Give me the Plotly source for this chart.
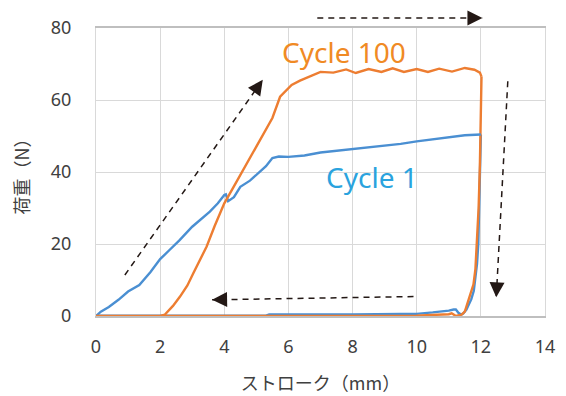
import plotly.graph_objects as go

# ---------------- data ----------------
# Cycle 1: loading path
c1_load_x = [0, 0.15, 0.4, 0.7, 1.0, 1.35, 1.7, 2.0, 2.3, 2.6, 3.0, 3.3, 3.55, 3.8, 4.0, 4.05, 4.12, 4.3, 4.5, 4.8, 5.0, 5.3, 5.5, 5.7, 6.0, 6.5, 7.0, 7.5, 8.0, 8.5, 9.0, 9.5, 10.0, 10.5, 11.0, 11.5, 12.0]
c1_load_y = [0, 1.2, 2.5, 4.5, 6.8, 8.6, 12.2, 15.8, 18.4, 21.0, 24.8, 27.2, 29.0, 31.3, 33.6, 33.8, 31.9, 33.0, 35.9, 37.6, 39.3, 41.6, 43.9, 44.3, 44.2, 44.6, 45.4, 45.9, 46.3, 46.8, 47.2, 47.8, 48.5, 49.1, 49.7, 50.2, 50.4]
# Cycle 1: unloading path
c1_unl_x = [12.0, 11.98, 11.95, 11.92, 11.88, 11.84, 11.78, 11.7, 11.63, 11.55, 11.45, 11.38, 11.3, 11.22, 11.15, 11.0, 10.5, 10.0, 9.5, 9.0, 8.0, 7.0, 6.0, 5.4, 5.3, 4.0, 2.0, 0.0]
c1_unl_y = [50.4, 40.0, 30.0, 20.0, 14.5, 10.9, 7.0, 4.6, 3.4, 1.8, 0.7, 0.4, 0.9, 1.8, 1.8, 1.5, 1.0, 0.6, 0.6, 0.5, 0.4, 0.4, 0.4, 0.4, 0.1, 0.1, 0.1, 0.1]

# Cycle 100: loading path
c100_load_x = [0, 2.0, 2.15, 2.4, 2.62, 2.85, 3.03, 3.25, 3.45, 3.7, 4.0, 4.3, 4.6, 4.9, 5.2, 5.5, 5.74, 5.95, 6.1, 6.36, 6.67, 7.0, 7.4, 7.8, 8.1, 8.5, 8.9, 9.25, 9.6, 10.0, 10.35, 10.7, 11.1, 11.5, 11.8, 11.97, 12.02]
c100_load_y = [0, 0, 0.4, 2.8, 5.4, 8.5, 11.8, 15.8, 19.3, 25.0, 31.3, 36.0, 40.8, 45.5, 50.2, 55.0, 60.9, 63.0, 64.2, 65.4, 66.5, 67.8, 67.6, 68.5, 67.5, 68.6, 67.8, 68.8, 67.8, 68.6, 67.8, 68.7, 67.9, 68.9, 68.4, 67.6, 66.5]
# Cycle 100: unloading path
c100_unl_x = [12.02, 12.0, 11.97, 11.93, 11.88, 11.83, 11.77, 11.68, 11.6, 11.5, 11.4, 11.3, 11.22, 11.15, 11.09, 11.0, 10.7, 10.3, 10.0, 9.0, 6.0, 2.1]
c100_unl_y = [66.5, 55.0, 42.0, 30.0, 20.0, 13.0, 8.8, 6.3, 3.6, 1.2, 0.4, 0.1, 0.0, 0.4, 0.75, 0.5, 0.3, 0.2, 0.1, 0.0, 0.0, 0.0]

# dashed direction arrows: (tail_x, tail_y, head_x, head_y) in data units
arrows = [
    (0.9, 11.4, 5.2, 65.6),
    (6.9, 82.8, 12.05, 82.8),
    (12.84, 65.2, 12.48, 5.2),
    (9.9, 5.4, 3.62, 4.5),
]

labels = [("Cycle 100", 7.72, 73.3, "#F08A24"), ("Cycle 1", 8.61, 38.6, "#2AA3DE")]

x_ticks = [0, 2, 4, 6, 8, 10, 12, 14]
y_ticks = [0, 20, 40, 60, 80]
x_title = "ストローク（mm）"
y_title = "荷重（N）"

# ---------------- layout constants ----------------
W, H = 566, 396
ML, MR, MT, MB = 96, 21, 28, 80
XR = (0, 14)
YR = (0, 80)
pw, ph = W - ML - MR, H - MT - MB
px_per_x = pw / (XR[1] - XR[0])
px_per_y = ph / (YR[1] - YR[0])

BLUE = "#4A8FD2"
ORANGE = "#ED7D31"

fig = go.Figure()
fig.add_trace(go.Scatter(x=c1_unl_x, y=c1_unl_y, mode="lines", line=dict(color=BLUE, width=2.4), showlegend=False))
fig.add_trace(go.Scatter(x=c100_unl_x, y=c100_unl_y, mode="lines", line=dict(color=ORANGE, width=2.4), showlegend=False))
fig.add_trace(go.Scatter(x=c1_load_x, y=c1_load_y, mode="lines", line=dict(color=BLUE, width=2.4), showlegend=False))
fig.add_trace(go.Scatter(x=c100_load_x, y=c100_load_y, mode="lines", line=dict(color=ORANGE, width=2.4), showlegend=False))


def ypaper(v):
    return (v - YR[0]) / (YR[1] - YR[0])


AC = "#231815"
for (x0, y0, x1, y1) in arrows:
    fig.add_shape(type="line", xref="x", yref="paper", x0=x0, y0=ypaper(y0), x1=x1, y1=ypaper(y1),
                  line=dict(color=AC, width=1.5, dash="6px,5px"))
    dxp = (x1 - x0) * px_per_x
    dyp = -(y1 - y0) * px_per_y
    n = (dxp ** 2 + dyp ** 2) ** 0.5
    ux, uy = dxp / n, dyp / n
    L = 12
    fig.add_annotation(x=x1, y=ypaper(y1), xref="x", yref="paper", ax=-ux * L, ay=-uy * L,
                       axref="pixel", ayref="pixel", text="", showarrow=True, arrowhead=2,
                       arrowsize=2.0, arrowwidth=1.5, arrowcolor=AC, standoff=0)

for (t, x, y, c) in labels:
    fig.add_annotation(x=x, y=y, xref="x", yref="y", text=t, showarrow=False,
                       font=dict(family="Noto Sans", size=28, color=c), xanchor="center", yanchor="middle")

fig.update_layout(
    width=W, height=H,
    margin=dict(l=ML, r=MR, t=MT, b=MB, pad=0, autoexpand=False),
    paper_bgcolor="white", plot_bgcolor="white",
    font=dict(family="Noto Sans", color="#404040", size=18),
)
fig.update_xaxes(range=list(XR), tickvals=x_ticks, ticktext=[str(v) for v in x_ticks],
                 automargin=False,
                 showgrid=True, gridcolor="#D9D9D9", gridwidth=1.2, zeroline=False,
                 showline=True, linecolor="#BFBFBF", linewidth=1.5, mirror=True,
                 ticks="", ticklabelstandoff=14, tickfont=dict(size=18, color="#404040"),
                 title=dict(text=x_title, standoff=20, font=dict(family="Noto Sans CJK JP", size=18, color="#404040")))
fig.update_yaxes(range=list(YR), tickvals=y_ticks, ticktext=[str(v) for v in y_ticks],
                 automargin=False,
                 showgrid=True, gridcolor="#D9D9D9", gridwidth=1.2, zeroline=False,
                 showline=True, linecolor="#D9D9D9", linewidth=1.2, mirror=True,
                 ticks="", ticklabelstandoff=20, tickfont=dict(size=18, color="#404040"),
                 title=dict(text=y_title, standoff=16, font=dict(family="Noto Sans CJK JP", size=18, color="#404040")))

fig.write_html("out.html")
